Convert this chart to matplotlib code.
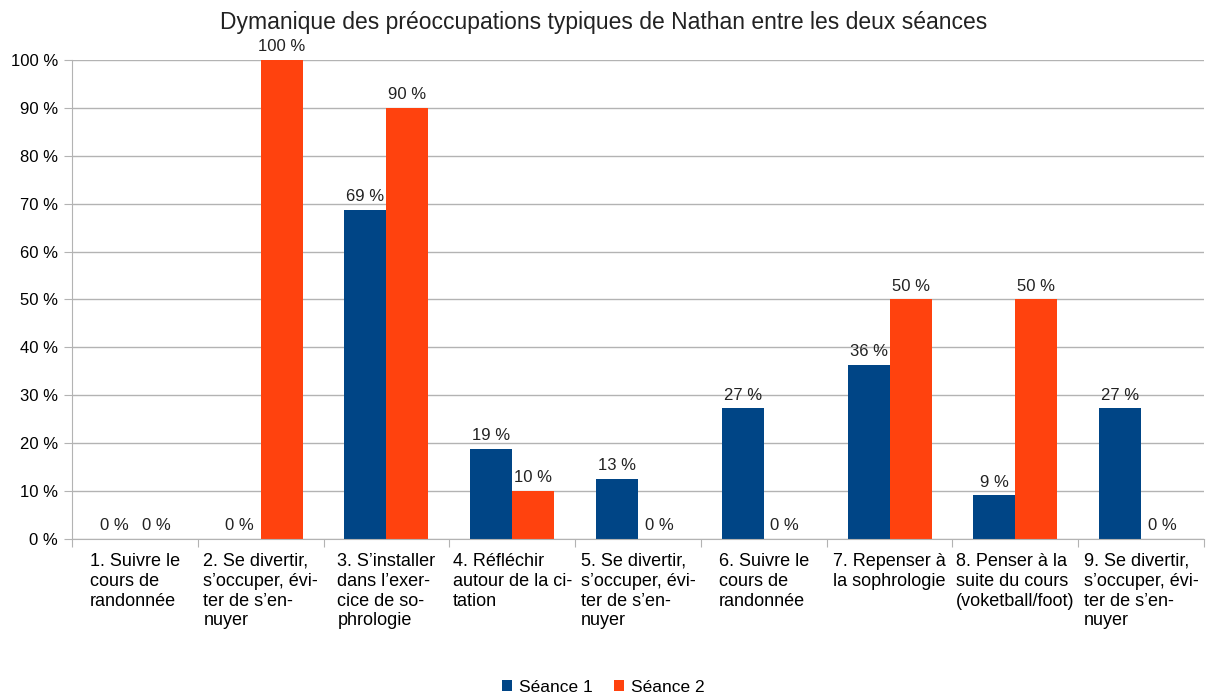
import numpy as np
import matplotlib.pyplot as plt

plt.rcParams['font.family'] = ['Liberation Sans', 'DejaVu Sans']

categories = [
    "1. Suivre le\ncours de\nrandonnée",
    "2. Se divertir,\ns\u2019occuper, évi-\nter de s\u2019en-\nnuyer",
    "3. S\u2019installer\ndans l\u2019exer-\ncice de so-\nphrologie",
    "4. Réfléchir\nautour de la ci-\ntation",
    "5. Se divertir,\ns\u2019occuper, évi-\nter de s\u2019en-\nnuyer",
    "6. Suivre le\ncours de\nrandonnée",
    "7. Repenser à\nla sophrologie",
    "8. Penser à la\nsuite du cours\n(voketball/foot)",
    "9. Se divertir,\ns\u2019occuper, évi-\nter de s\u2019en-\nnuyer",
]
seance1 = [0, 0, 68.75, 18.75, 12.5, 27.27, 36.36, 9.09, 27.27]
seance2 = [0, 100, 90, 10, 0, 0, 50, 50, 0]

blue = '#004586'
orange = '#ff420e'

fig = plt.figure(figsize=(12.07, 6.95), dpi=100)
ax = fig.add_axes([0.0597, 0.2245, 0.9378, 0.6892])

x = np.arange(len(categories))
w = 0.334
b1 = ax.bar(x - w / 2, seance1, w, color=blue, label='Séance 1')
b2 = ax.bar(x + w / 2, seance2, w, color=orange, label='Séance 2')

# étiquettes de valeur (arrondi au plus proche, 12.5 -> 13)
for bars, vals in ((b1, seance1), (b2, seance2)):
    for r, v in zip(bars, vals):
        ax.text(r.get_x() + r.get_width() / 2, v + 1.2, f"{int(v + 0.5)} %",
                ha='center', va='bottom', fontsize=12, color='#222222')

ax.set_xlim(-0.5, len(categories) - 0.5)
ax.set_ylim(0, 100)
ax.set_yticks(range(0, 101, 10))
ax.set_yticklabels([f"{t} %" for t in range(0, 101, 10)], fontsize=12)
ax.yaxis.grid(True, color='#b3b3b3', linewidth=1)
ax.set_axisbelow(True)

ax.set_xticks(np.arange(-0.5, len(categories), 1))
ax.set_xticklabels([])
ax.set_xticks(x, minor=True)
ax.set_xticklabels(categories, minor=True, fontsize=13, ha='center',
                   va='top', multialignment='left', linespacing=1.22)
ax.tick_params(axis='x', which='minor', length=0, pad=10)
ax.tick_params(axis='x', which='major', length=6, color='#b3b3b3')
ax.tick_params(axis='y', length=6, color='#b3b3b3', pad=4)

for side in ('top', 'right'):
    ax.spines[side].set_visible(False)
for side in ('left', 'bottom'):
    ax.spines[side].set_color('#b3b3b3')

fig.text(0.5, 1 - 22 / 695,
         "Dymanique des préoccupations typiques de Nathan entre les deux séances",
         fontsize=16.5, color='#222222', ha='center', va='center')

fig.legend(handles=[b1, b2], loc='lower center', ncol=2, frameon=False,
           fontsize=12.5, bbox_to_anchor=(0.5, -0.022), handlelength=0.6,
           handleheight=0.6, handletextpad=0.4, columnspacing=1.2)

fig.savefig('out.png', dpi=100)
